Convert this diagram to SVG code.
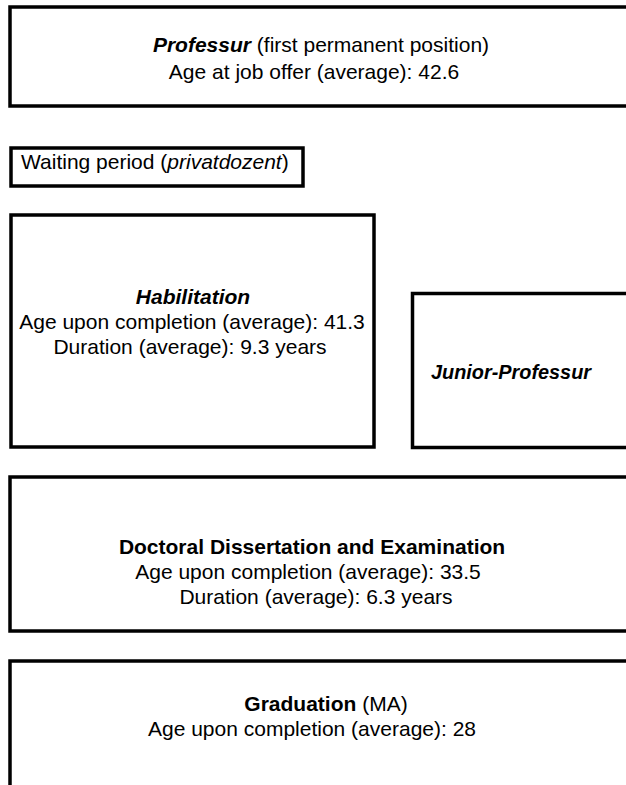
<svg xmlns="http://www.w3.org/2000/svg" width="626" height="785" viewBox="0 0 626 785">
<style>
.box{fill:#fff;stroke:#000;stroke-width:3.5}
text{font-family:"Liberation Sans",Arial,sans-serif;font-size:21px;fill:#000}
.c{text-anchor:middle}
.bi{font-weight:bold;font-style:italic}
.b{font-weight:bold}
.i{font-style:italic}
</style>
<rect width="626" height="785" fill="#fff"/>
<g id="connectors"></g>
<g id="professur">
<rect class="box" x="10" y="7" width="630" height="99"/>
<text class="c" x="321" y="52"><tspan class="bi">Professur</tspan> (first permanent position)</text>
<text class="c" x="314" y="79">Age at job offer (average): 42.6</text>
</g>
<g id="waiting">
<rect class="box" x="11" y="148" width="292" height="38"/>
<text x="21" y="169">Waiting period (<tspan class="i">privatdozent</tspan>)</text>
</g>
<g id="habilitation">
<rect class="box" x="11" y="215" width="363" height="232"/>
<text class="c" x="193" y="304"><tspan class="bi">Habilitation</tspan></text>
<text class="c" x="192" y="329">Age upon completion (average): 41.3</text>
<text class="c" x="190" y="354">Duration (average): 9.3 years</text>
</g>
<g id="junior">
<rect class="box" x="412.5" y="293.5" width="230" height="154"/>
<text class="bi" x="431" y="379" textLength="160" lengthAdjust="spacingAndGlyphs">Junior-Professur</text>
</g>
<g id="doctoral">
<rect class="box" x="10" y="477" width="630" height="154"/>
<text class="c" x="312" y="554"><tspan class="b">Doctoral Dissertation and Examination</tspan></text>
<text class="c" x="308" y="579">Age upon completion (average): 33.5</text>
<text class="c" x="316" y="604">Duration (average): 6.3 years</text>
</g>
<g id="graduation">
<rect class="box" x="10" y="661" width="630" height="140"/>
<text class="c" x="326" y="711"><tspan class="b">Graduation</tspan> (MA)</text>
<text class="c" x="312" y="736">Age upon completion (average): 28</text>
</g>
</svg>
